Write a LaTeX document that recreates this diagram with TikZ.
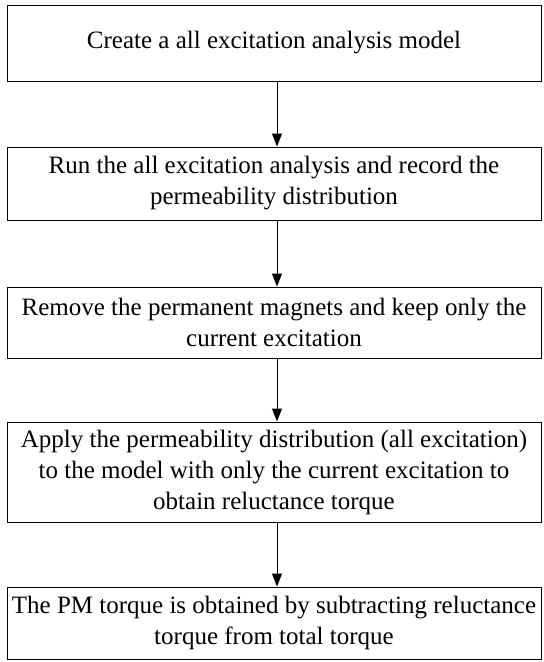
\documentclass[tikz,border=0pt]{standalone}
\usepackage{fontspec}
\setmainfont{Liberation Serif}
\usetikzlibrary{arrows.meta}
\begin{document}
\begin{tikzpicture}[x=1pt,y=-1pt,
  stepbox/.style={draw, line width=1pt, minimum width=534pt, align=center, font=\fontsize{25}{31}\selectfont, inner sep=0pt},
  flow/.style={line width=1pt, -{Triangle[length=13pt,width=10pt]}}]
\useasboundingbox (0,0) rectangle (544,662);
\node[stepbox, minimum height=76pt] (b1) at (274,43) {Create a all excitation analysis model};
\node[stepbox, minimum height=73pt] (b2) at (274,183.5) {Run the all excitation analysis and record the\\permeability distribution};
\node[stepbox, minimum height=71pt] (b3) at (274,322.5) {Remove the permanent magnets and keep only the\\current excitation};
\node[stepbox, minimum height=100pt] (b4) at (274,472) {Apply the permeability distribution (all excitation)\\to the model with only the current excitation to\\obtain reluctance torque};
\node[stepbox, minimum height=72pt] (b5) at (274,623) {The PM torque is obtained by subtracting reluctance\\torque from total torque};
\draw[flow] (b1.south -| 277,0) -- (b2.north -| 277,0);
\draw[flow] (b2.south -| 277,0) -- (b3.north -| 277,0);
\draw[flow] (b3.south -| 277,0) -- (b4.north -| 277,0);
\draw[flow] (b4.south -| 277,0) -- (b5.north -| 277,0);
\end{tikzpicture}
\end{document}
